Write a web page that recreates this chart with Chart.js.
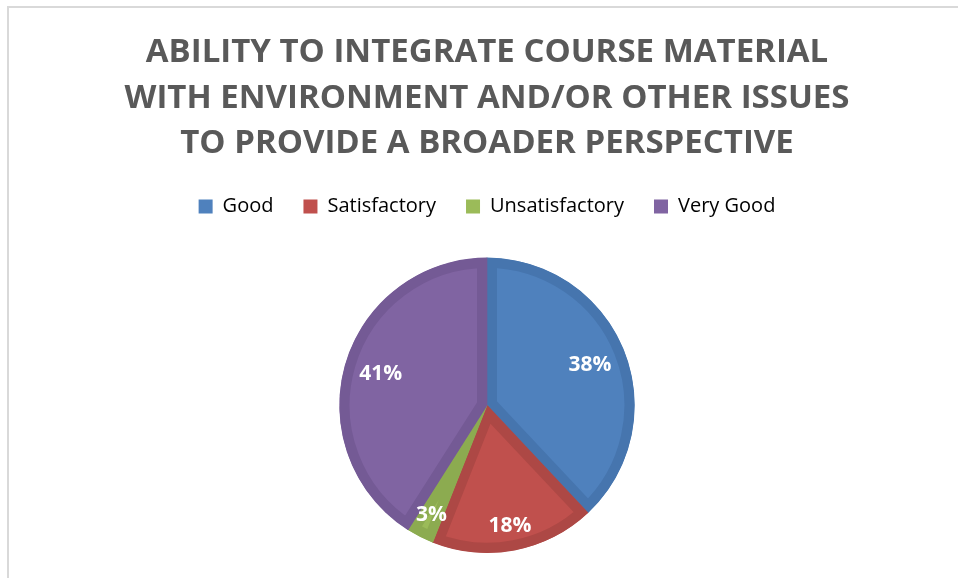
<!DOCTYPE html>
<html>
<head>
<meta charset="utf-8">
<script src="https://cdn.jsdelivr.net/npm/chart.js@4/dist/chart.umd.min.js"></script>
<style>
  body { margin: 0; background: #fff; overflow: hidden; }
  #frame { position: absolute; left: 7px; top: 6px; width: 1000px; height: 600px; border: 2px solid #d9d9d9; box-sizing: border-box; }
  #myChart { position: absolute; left: 0; top: 0; }
</style>
</head>
<body>
<div id="frame"></div>
<canvas id="myChart" width="958" height="578"></canvas>
<script>
'use strict';

// data
const categories = ['Good', 'Satisfactory', 'Unsatisfactory', 'Very Good'];
const percents = [38, 18, 3, 41];
const titleLines = [
  'ABILITY TO INTEGRATE COURSE MATERIAL',
  'WITH ENVIRONMENT AND/OR OTHER ISSUES',
  'TO PROVIDE A BROADER PERSPECTIVE'
];

const fillColors = ['#4f81bd', '#c0504d', '#9bbb59', '#8064a2'];
const edgeColors = ['#4675ae', '#ad4845', '#8cab50', '#745a95'];

// white % labels inside the slices
const sliceLabels = {
  id: 'sliceLabels',
  afterDatasetsDraw(chart) {
    const ctx = chart.ctx;
    const arcs = chart.getDatasetMeta(0).data;
    ctx.save();
    ctx.fillStyle = '#ffffff';
    ctx.font = 'bold 21px "Open Sans", sans-serif';
    ctx.textAlign = 'center';
    ctx.textBaseline = 'middle';
    arcs.forEach((arc, i) => {
      const p = arc.getProps(['x', 'y', 'startAngle', 'endAngle', 'outerRadius'], true);
      const mid = (p.startAngle + p.endAngle) / 2;
      const k = percents[i] < 25 ? 0.83 : 0.75;
      const r = p.outerRadius * k;
      ctx.fillText(percents[i] + '%', p.x + Math.cos(mid) * r, p.y + Math.sin(mid) * r);
    });
    ctx.restore();
  }
};

// a bit more room under the legend
const legendGap = {
  id: 'legendGap',
  beforeLayout(chart) {
    const lg = chart.legend;
    if (lg && !lg._gapPatched) {
      const fit = lg.fit;
      lg.fit = function () {
        fit.call(this);
        this.height += 31;
      };
      lg._gapPatched = true;
    }
  }
};

const data = {
  labels: categories,
  datasets: [{
    data: percents,
    backgroundColor: fillColors,
    borderColor: edgeColors,
    borderWidth: 10,
    borderAlign: 'inner'
  }]
};

const config = {
  type: 'pie',
  data: data,
  options: {
    responsive: false,
    animation: false,
    layout: {
      padding: { left: 16, right: 0, top: 0, bottom: 25 }
    },
    plugins: {
      title: {
        display: true,
        text: titleLines,
        color: '#595959',
        font: { family: '"Open Sans", sans-serif', size: 33, weight: 'bold', lineHeight: 1.38 },
        padding: { top: 30, bottom: 0 }
      },
      legend: {
        position: 'top',
        labels: {
          color: '#595959',
          font: { family: '"Open Sans", sans-serif', size: 20 },
          boxWidth: 14,
          boxHeight: 14,
          padding: 30,
          generateLabels(chart) {
            return categories.map((c, i) => ({
              text: c,
              fillStyle: fillColors[i],
              strokeStyle: fillColors[i],
              lineWidth: 0,
              index: i
            }));
          }
        }
      },
      tooltip: { enabled: false }
    }
  },
  plugins: [sliceLabels, legendGap]
};

const myChart = new Chart(document.getElementById('myChart'), config);
</script>
</body>
</html>
